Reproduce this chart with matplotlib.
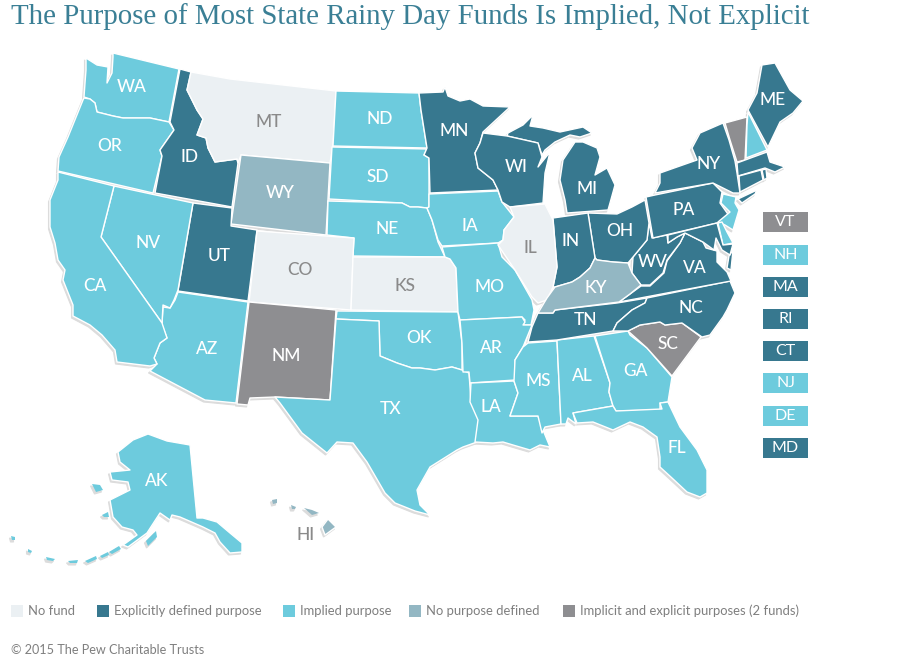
import matplotlib
matplotlib.use('Agg')
import matplotlib.pyplot as plt
from matplotlib.patches import Polygon, Rectangle

# state outlines in pixels (x, y)
WA = [(113,53),(179,69),(169,122),(150,118),(123,118),(113,116),(97,112),(95,103),(90,99),(84,97),(85,83),(86,70),(86,58),(97,65),(108,67),(107,83),(112,73),(113,57)]
OR = [(84,98),(90,99),(95,103),(97,112),(113,116),(123,118),(150,118),(169,122),(174,130),(160,150),(162,156),(153,193),(58,171),(59,157),(68,137),(83,100)]
ID = [(180,69),(191,72),(187,90),(197,110),(203,119),(197,135),(206,138),(208,148),(215,162),(237,159),(238,163),(232,207),(155,193),(162,156),(160,150),(174,130),(170,122)]
MT = [(191,72),(230,79),(336,91),(333,146),(330,163),(241,155),(238,163),(237,159),(215,162),(208,148),(206,138),(197,135),(203,119),(197,110),(187,90)]
WY = [(241,155),(330,163),(326,235),(231,224)]
ND = [(336,91),(419,93),(421,110),(427,148),(333,146)]
SD = [(332,147),(427,149),(424,155),(429,158),(429,207),(427,208),(418,207),(410,207),(402,203),(329,199)]
NE = [(328,201),(402,203),(410,207),(418,207),(427,208),(432,220),(438,242),(445,257),(353,256),(354,238),(327,235)]
UT = [(193,203),(232,208),(231,226),(257,230),(248,301),(178,291)]
CO = [(257,231),(354,238),(353,256),(351,310),(249,302)]
KS = [(353,257),(445,257),(450,259),(456,268),(458,312),(351,310)]
NM = [(249,302),(336,310),(330,400),(275,397),(250,398),(248,405),(237,404)]
OK = [(337,311),(458,312),(462,343),(462,370),(452,367),(435,370),(420,368),(412,368),(397,363),(380,356),(379,321),(336,319)]
TX = [(336,319),(379,321),(380,356),(397,363),(412,368),(420,368),(435,370),(452,367),(462,370),(469,373),(471,402),(479,418),(477,442),(463,447),(457,450),(430,467),(417,490),(420,505),(430,515),(415,511),(395,503),(385,493),(367,462),(353,443),(337,442),(327,453),(302,433),(280,403),(275,397),(330,400)]
AZ = [(178,292),(248,302),(236,403),(205,400),(150,371),(157,364),(154,358),(160,343),(167,338),(162,325),(163,307),(170,308),(175,300)]
NV = [(114,186),(193,203),(178,290),(174,300),(170,308),(163,305),(162,323),(101,237)]
CA = [(58,172),(114,186),(101,237),(162,323),(167,338),(160,343),(154,358),(157,364),(150,366),(117,362),(115,350),(102,335),(90,325),(73,316),(73,305),(63,280),(65,270),(58,260),(55,243),(50,227),(50,200),(58,180)]
MN = [(419,93),(443,92),(445,87),(448,96),(460,101),(470,99),(483,106),(510,107),(483,132),(480,143),(475,153),(478,168),(493,180),(498,190),(430,193),(429,158),(424,155),(427,148),(421,110)]
IA = [(429,194),(498,191),(502,202),(514,217),(504,230),(503,240),(498,243),(442,246),(438,240),(432,220),(427,208),(429,207)]
MO = [(442,247),(498,243),(502,257),(515,270),(532,300),(534,310),(531,325),(523,325),(525,320),(522,317),(460,320),(458,312),(456,268),(450,259),(445,257)]
AR = [(460,320),(522,317),(525,322),(523,325),(532,325),(523,347),(515,360),(515,380),(470,383),(469,372),(463,372),(462,343)]
LA = [(471,383),(514,381),(518,393),(510,416),(538,416),(543,430),(550,447),(540,445),(530,450),(513,445),(503,442),(493,443),(475,442),(478,420),(470,402)]
MS = [(528,343),(557,341),(561,424),(545,427),(542,433),(538,416),(510,416),(518,393),(514,381),(515,360),(523,347)]
AL = [(557,340),(594,336),(610,383),(609,392),(613,406),(573,413),(576,424),(568,418),(566,424),(561,424)]
GA = [(595,336),(628,331),(630,335),(647,348),(672,377),(668,402),(660,403),(660,410),(616,411),(613,406),(609,392),(610,383)]
FL = [(573,413),(613,406),(616,411),(662,409),(660,403),(668,402),(680,427),(697,450),(707,470),(707,493),(700,497),(687,492),(672,478),(660,467),(660,457),(657,437),(643,427),(630,422),(613,430),(593,422),(577,423)]
SC = [(628,331),(640,325),(660,322),(665,325),(682,323),(701,337),(672,376),(647,348)]
TN = [(528,342),(532,327),(538,313),(553,313),(555,310),(617,303),(647,298),(645,303),(632,310),(617,323),(613,331),(557,340)]
NC = [(647,298),(730,281),(735,293),(727,310),(723,317),(710,335),(702,337),(682,323),(665,325),(660,322),(640,325),(628,331),(613,331),(617,323),(632,310),(645,303)]
VA = [(619,302),(630,294),(641,286),(650,286),(664,273),(667,261),(680,243),(685,233),(693,237),(703,242),(706,248),(717,251),(717,262),(727,272),(731,281)]
VA_shore = [(729,256),(733,250),(731,270),(727,268)]
WV = [(652,238),(667,235),(668,243),(677,237),(685,233),(680,243),(667,260),(663,273),(650,285),(641,285),(632,273),(633,257),(647,240),(649,223)]
OH = [(588,213),(617,214),(632,207),(645,200),(649,223),(647,240),(633,257),(628,263),(613,262),(597,260),(595,258)]
IN = [(553,218),(588,213),(595,258),(590,268),(580,277),(572,282),(555,287),(553,287),(557,267)]
MI = [(567,213),(565,200),(560,180),(563,160),(575,142),(583,142),(597,148),(600,157),(595,175),(607,168),(615,185),(610,203),(608,210)]
MI_up = [(508,133),(523,125),(533,115),(530,126),(543,128),(560,132),(583,127),(592,133),(580,137),(570,135),(555,142),(545,150),(542,155),(538,143),(507,136)]
WI = [(483,133),(507,136),(538,143),(542,157),(538,167),(550,152),(545,173),(543,203),(510,207),(502,202),(498,190),(493,180),(478,168),(475,153),(480,143)]
IL = [(510,207),(545,204),(553,220),(557,267),(553,287),(547,300),(538,303),(532,297),(515,270),(498,245),(503,240),(504,230),(514,217)]
KY = [(595,258),(597,260),(613,262),(628,263),(632,273),(641,285),(630,294),(619,302),(555,310),(553,313),(538,313),(547,298),(555,287),(572,282),(580,277),(590,268)]
PA = [(646,197),(655,195),(713,183),(722,192),(720,203),(730,217),(717,223),(653,238)]
NY = [(655,193),(660,183),(660,173),(677,167),(697,160),(692,148),(700,133),(723,123),(729,140),(735,161),(737,173),(740,193),(733,193),(713,183)]
NY_li = [(738,199),(757,190),(755,194),(742,203)]
VT = [(725,123),(747,117),(745,160),(737,162),(730,140)]
NH = [(748,112),(767,150),(746,158),(747,125)]
ME = [(748,110),(757,93),(762,65),(775,63),(790,90),(803,101),(793,113),(780,122),(768,147)]
MA = [(737,163),(767,152),(770,162),(785,167),(775,172),(765,168),(738,176)]
CT = [(739,176),(761,170),(763,180),(740,192)]
RI = [(762,170),(766,169),(767,178),(764,180)]
NJ = [(723,194),(736,197),(735,203),(739,210),(733,230),(725,225),(718,222),(730,212),(721,203)]
DE = [(718,223),(722,222),(727,232),(733,243),(723,245)]
MD = [(668,235),(717,223),(723,245),(733,244),(730,255),(722,250),(716,238),(714,250),(703,242),(685,233),(677,237),(668,243)]
AK = [(118,452),(133,440),(148,434),(167,441),(190,445),(197,518),(203,518),(217,522),(230,533),(242,543),(242,552),(230,553),(220,542),(215,533),(203,527),(180,517),(172,515),(170,520),(160,513),(147,533),(128,547),(123,545),(137,535),(133,530),(122,527),(113,517),(110,500),(130,490),(128,482),(112,480),(110,472),(130,470),(120,462)]
HI = [(322,527),(328,519),(336,527),(325,535)]

# small islands, drawn without a white edge
AK_islands = [[(146,541),(156,531),(157,537),(148,546)],[(92,484),(100,485),(103,490),(96,492)],[(102,515),(108,512),(109,517),(104,517)],
              [(109,552),(119,546),(121,549),(112,554)],[(100,556),(108,552),(109,555),(102,558)],[(85,561),(96,556),(97,559),(88,563)],
              [(68,561),(78,560),(77,563),(70,563)],[(46,557),(55,559),(53,561),(47,560)],[(11,536),(15,537),(15,540),(12,540)],[(28,549),(32,551),(31,553),(28,552)]]
HI_islands = [[(272,500),(277,499),(277,503),(273,504)],[(291,505),(296,507),(295,509),(292,509)],[(304,508),(312,510),(319,513),(312,515)]]

state_shapes = {
    'WA':[WA],'OR':[OR],'ID':[ID],'MT':[MT],'WY':[WY],'ND':[ND],'SD':[SD],'NE':[NE],'UT':[UT],'CO':[CO],
    'KS':[KS],'NM':[NM],'OK':[OK],'TX':[TX],'AZ':[AZ],'NV':[NV],'CA':[CA],'MN':[MN],'IA':[IA],'MO':[MO],
    'AR':[AR],'LA':[LA],'MS':[MS],'AL':[AL],'GA':[GA],'FL':[FL],'SC':[SC],'TN':[TN],'NC':[NC],'VA':[VA,VA_shore],
    'WV':[WV],'OH':[OH],'IN':[IN],'MI':[MI,MI_up],'WI':[WI],'IL':[IL],'KY':[KY],'PA':[PA],'NY':[NY,NY_li],
    'VT':[VT],'NH':[NH],'ME':[ME],'MA':[MA],'CT':[CT],'RI':[RI],'NJ':[NJ],'DE':[DE],'MD':[MD],
    'AK':[AK],'HI':[HI],
}
island_shapes = {'AK':AK_islands,'HI':HI_islands}

no_fund = ['MT','CO','KS','IL']
explicit = ['ID','UT','MN','WI','MI','IN','OH','PA','NY','ME','MA','RI','CT','MD','WV','VA','NC','TN']
no_purpose = ['WY','KY','HI']
both = ['NM','SC','VT']

colors = {'no_fund':'#ebf0f3','explicit':'#37788f','implied':'#6dcbdd','no_purpose':'#93b7c3','both':'#8e8e91'}
shadow_color = '#dcdcdc'
label_grey = '#8a8a8a'
text_grey = '#7f7f7f'

# label spots for states
label_pos = {
    'WA':(132,87),'OR':(110,146),'ID':(189,157),'MT':(269,122),'ND':(380,119),'MN':(454,131),'WI':(516,167),
    'MI':(587,189),'NY':(709,164),'ME':(773,100),'PA':(684,210),'OH':(620,231),'IN':(571,241),'IL':(530,248),
    'IA':(470,226),'NE':(387,229),'SD':(378,177),'WY':(280,193),'NV':(148,243),'UT':(219,256),
    'CO':(300,270),'KS':(405,286),'CA':(95,286),'AZ':(207,349),'NM':(286,356),'OK':(419,338),'TX':(391,409),
    'MO':(490,287),'AR':(491,348),'LA':(491,407),'MS':(538,381),'AL':(582,376),'GA':(636,371),'FL':(677,448),
    'SC':(668,344),'NC':(691,308),'TN':(585,320),'KY':(596,288),'WV':(653,262),'VA':(695,268),'AK':(157,481),'HI':(306,535),
}

side_states = ['VT','NH','MA','RI','CT','NJ','DE','MD']
side_y = [222,255,287,319,351,383,416,448]

legend_names = ['No fund','Explicitly defined purpose','Implied purpose','No purpose defined','Implicit and explicit purposes (2 funds)']
legend_keys = ['no_fund','explicit','implied','no_purpose','both']
legend_x = [11,97,283,409,563]

title = 'The Purpose of Most State Rainy Day Funds Is Implied, Not Explicit'
credit = '\u00a9 2015 The Pew Charitable Trusts'


def purpose(st):
    if st in no_fund:
        return 'no_fund'
    if st in explicit:
        return 'explicit'
    if st in no_purpose:
        return 'no_purpose'
    if st in both:
        return 'both'
    return 'implied'


plt.rcParams['font.family'] = ['Lato', 'DejaVu Sans']
fig = plt.figure(figsize=(9, 6.71), dpi=100)
ax = fig.add_axes([0, 0, 1, 1])
ax.set_xlim(0, 900)
ax.set_ylim(671, 0)
ax.axis('off')

# soft coast shadow first, shifted down-left
for st in state_shapes:
    for part in state_shapes[st] + island_shapes.get(st, []):
        moved = [(x - 1.5, y + 2) for x, y in part]
        ax.add_patch(Polygon(moved, closed=True, fc=shadow_color, ec=shadow_color, lw=0.8, zorder=1))

for st in state_shapes:
    for part in state_shapes[st]:
        ax.add_patch(Polygon(part, closed=True, fc=colors[purpose(st)], ec='white', lw=1.0, joinstyle='round', zorder=2))
    for part in island_shapes.get(st, []):
        ax.add_patch(Polygon(part, closed=True, fc=colors[purpose(st)], ec='none', zorder=2))

for st in label_pos:
    x, y = label_pos[st]
    col = label_grey if st in no_fund or st == 'HI' else 'white'
    ax.text(x, y, st, color=col, fontsize=12.5, fontweight='medium', ha='center', va='center', zorder=3)

for st, y in zip(side_states, side_y):
    c = colors[purpose(st)]
    ax.add_patch(Rectangle((763, y - 10), 45, 20, fc=c, ec='none', zorder=2))
    ax.text(785.5, y, st, color='white', fontsize=11.5, ha='center', va='center', zorder=3)

for name, key, x in zip(legend_names, legend_keys, legend_x):
    ax.add_patch(Rectangle((x, 605), 12, 12, fc=colors[key], ec='none', zorder=2))
    ax.text(x + 17, 611, name, color=text_grey, fontsize=9.4, ha='left', va='center')

ax.text(11, 650, credit, color=text_grey, fontsize=9.1, ha='left', va='center')
ax.text(11, 17, title, color='#3a7f95', fontsize=20.8, family=['Liberation Serif', 'DejaVu Serif'], ha='left', va='center')

fig.savefig('out.png', dpi=100)
